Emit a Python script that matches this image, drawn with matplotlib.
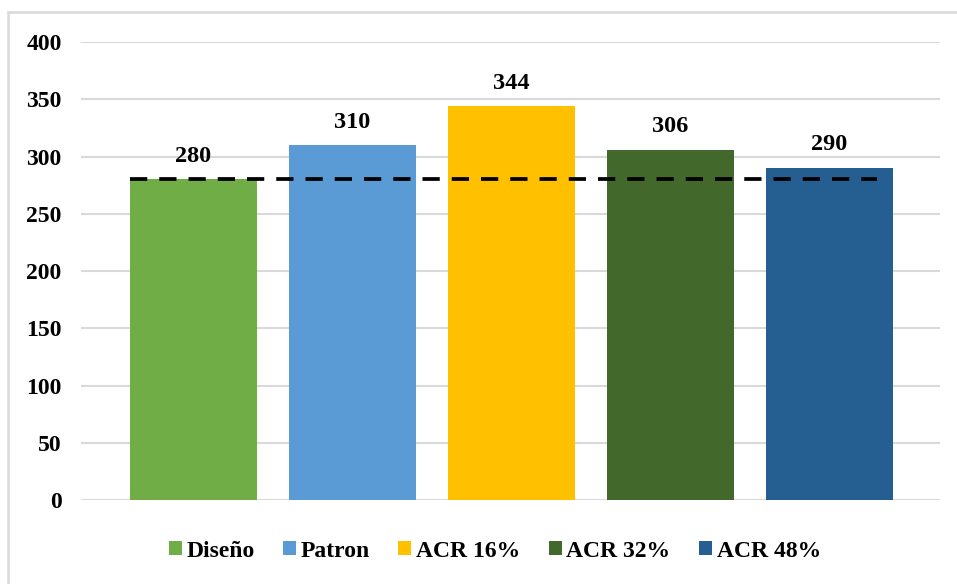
import matplotlib.pyplot as plt
from matplotlib.patches import Rectangle, Patch

plt.rcParams["font.family"] = ["Liberation Serif", "DejaVu Serif"]
plt.rcParams["font.weight"] = "bold"

categories = ["Diseño", "Patron", "ACR 16%", "ACR 32%", "ACR 48%"]
values = [280, 310, 344, 306, 290]
colors = ["#70AD47", "#5B9BD5", "#FFC000", "#43682B", "#255E91"]
reference = 280
yticks = [0, 50, 100, 150, 200, 250, 300, 350, 400]

fig = plt.figure(figsize=(9.57, 5.84), dpi=100)
ax = fig.add_axes([0.0846, 0.1438, 0.8976, 0.7842])

x = list(range(len(categories)))
ax.bar(x, values, width=0.8, color=colors, zorder=2)

for xi, v in zip(x, values):
    ax.annotate(f"{v}", (xi, v), xytext=(0, 9), textcoords="offset points",
                ha="center", va="bottom", fontsize=17.5, fontweight="bold", zorder=4)

# design strength reference
ax.plot([-0.4, 4.3], [reference, reference], color="black", lw=2.7,
         dashes=(4.6, 3.2), zorder=3)

ax.set_xlim(-0.708, 4.695)
ax.set_ylim(0, 400)
ax.set_yticks(yticks)
ax.set_xticks([])
ax.yaxis.grid(True, color="#D9D9D9", lw=1.5, zorder=0)
ax.tick_params(axis="y", length=0, pad=14, labelsize=17)
for s in ax.spines.values():
    s.set_visible(False)

handles = [Patch(facecolor=c, label=l) for c, l in zip(colors, categories)]
fig.legend(handles=handles, loc="center", bbox_to_anchor=(0.517, 0.0565),
           ncol=5, frameon=False, fontsize=17, handlelength=0.55,
           handleheight=0.55, handletextpad=0.2, columnspacing=1.2)

# outer chart frame
fig.add_artist(Rectangle((8 / 957, -0.1), 1.2, 1.1 - 12 / 584,
                         transform=fig.transFigure, fill=False,
                         edgecolor="#D9D9D9", lw=1.8, clip_on=False))

fig.savefig("out.png", dpi=100)
